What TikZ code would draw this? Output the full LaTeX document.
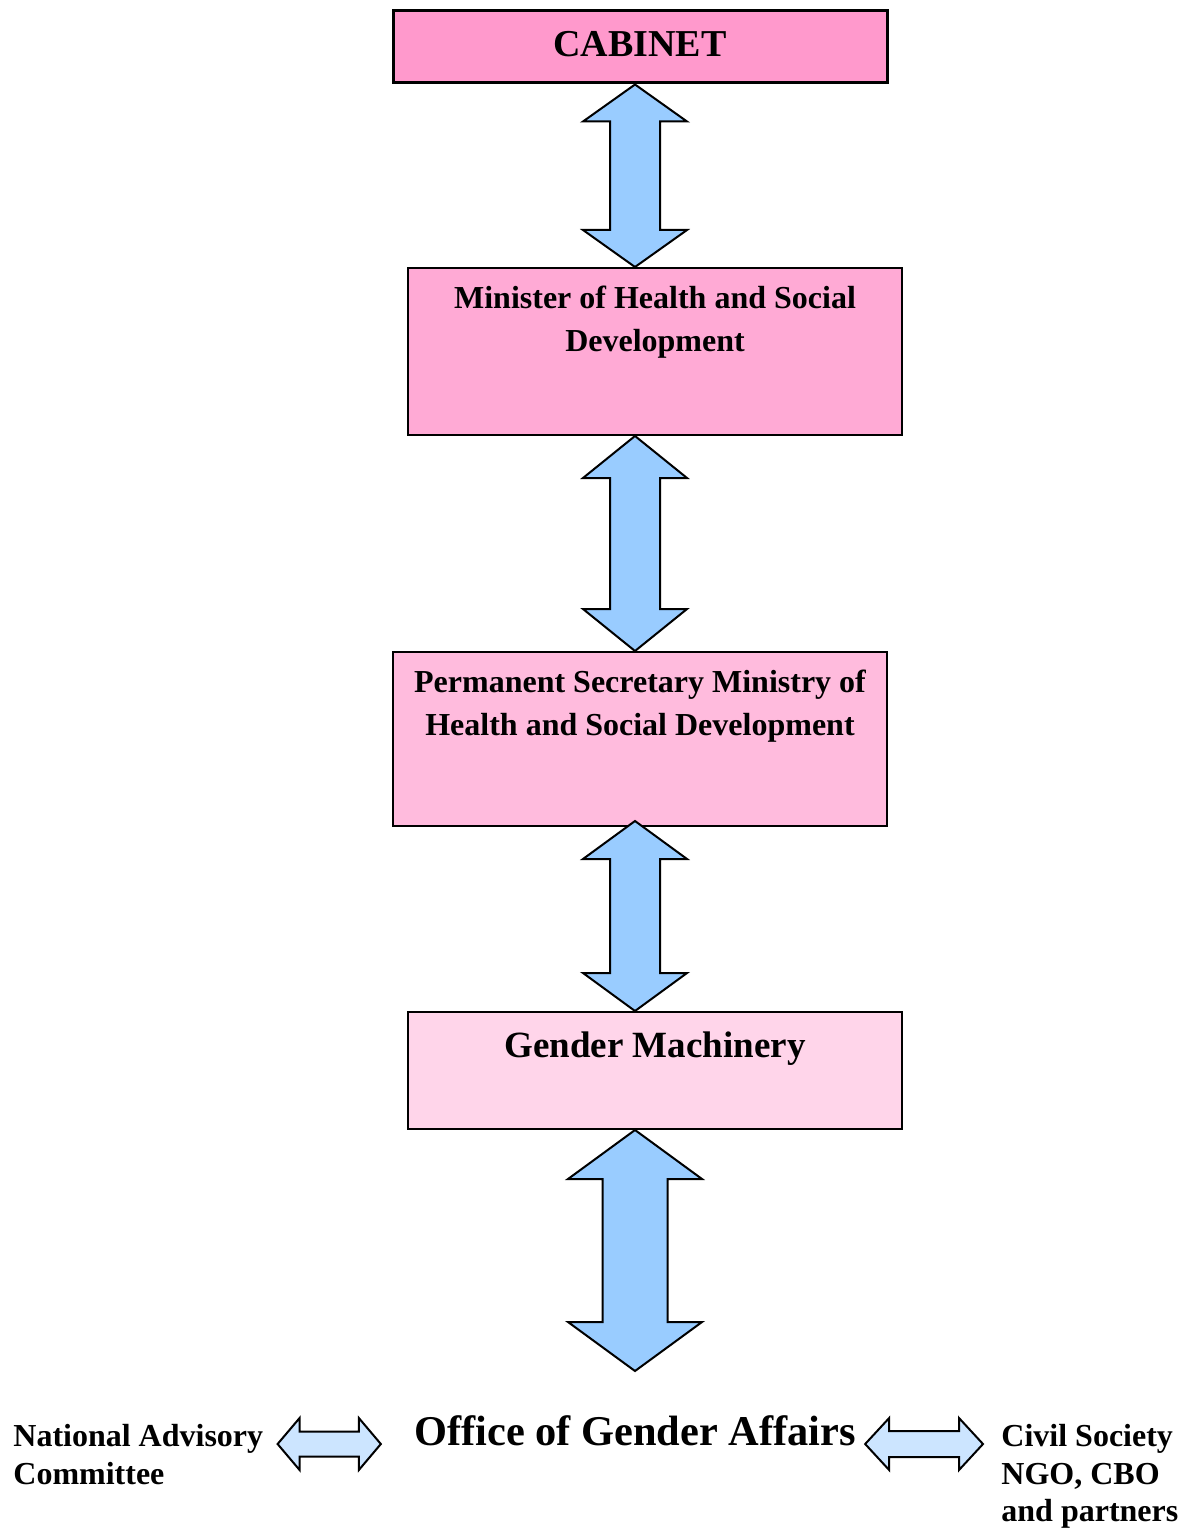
\documentclass[tikz,border=0pt]{standalone}
\usepackage{fontspec}
\setmainfont{Liberation Serif}
\usetikzlibrary{positioning,calc}

\definecolor{cabinetpink}{RGB}{255,153,204}
\definecolor{ministerpink}{RGB}{255,170,213}
\definecolor{secretarypink}{RGB}{255,187,221}
\definecolor{machinerypink}{RGB}{255,213,234}
\definecolor{linkblue}{RGB}{153,204,255}
\definecolor{sideblue}{RGB}{204,229,255}

\tikzset{
    box/.style={draw, line width=1pt, minimum width=247pt, inner sep=0pt},
    boxtext/.style={anchor=north, inner sep=0pt, align=center, font=\bfseries\fontsize{16}{21.5}\selectfont},
    sidetext/.style={anchor=north west, inner sep=0pt, align=left, font=\bfseries\fontsize{16}{18.8}\selectfont},
    vlink/.style={draw, line width=1pt, fill=linkblue, line join=miter},
    hlink/.style={draw, line width=1pt, fill=sideblue, line join=miter}
}

% double arrow, vertical: top, bottom, head half width, shaft half width, head length (px)
\newcommand{\vlinkarrow}[5]{%
    \path[vlink] let \p1=(#1), \p2=(#2) in
        (\x1,\y1) -- (\x1+#3*0.5pt,\y1-#5*0.5pt) -- (\x1+#4*0.5pt,\y1-#5*0.5pt)
        -- (\x1+#4*0.5pt,\y2+#5*0.5pt) -- (\x1+#3*0.5pt,\y2+#5*0.5pt) -- (\x1,\y2)
        -- (\x1-#3*0.5pt,\y2+#5*0.5pt) -- (\x1-#4*0.5pt,\y2+#5*0.5pt)
        -- (\x1-#4*0.5pt,\y1-#5*0.5pt) -- (\x1-#3*0.5pt,\y1-#5*0.5pt) -- cycle;}
% double arrow, horizontal: left, right, head half height, shaft half height, head length (px)
\newcommand{\hlinkarrow}[5]{%
    \path[hlink] let \p1=(#1), \p2=(#2) in
        (\x1,\y1) -- (\x1+#5*0.5pt,\y1+#3*0.5pt) -- (\x1+#5*0.5pt,\y1+#4*0.5pt)
        -- (\x2-#5*0.5pt,\y1+#4*0.5pt) -- (\x2-#5*0.5pt,\y1+#3*0.5pt) -- (\x2,\y1)
        -- (\x2-#5*0.5pt,\y1-#3*0.5pt) -- (\x2-#5*0.5pt,\y1-#4*0.5pt)
        -- (\x1+#5*0.5pt,\y1-#4*0.5pt) -- (\x1+#5*0.5pt,\y1-#3*0.5pt) -- cycle;}

\begin{document}
\begin{tikzpicture}[x=0.5pt, y=-0.5pt]
    \useasboundingbox (0,0) rectangle (1183,1529);
    \coordinate (spine) at (635,0);
    \coordinate (sideaxis) at (0,1444);

    % hierarchy boxes
    \node[box, line width=1.5pt, fill=cabinetpink, minimum height=36pt] (cabinet) at (640,47) {};
    \node[anchor=base, inner sep=0pt, font=\bfseries\fontsize{19}{23}\selectfont] (cabinetlabel) at (640,57) {CABINET};

    \node[box, fill=ministerpink, minimum height=83.5pt] (minister) at (655,351.5) {};
    \node[boxtext] (ministerlabel) at (655,286) {Minister of Health and Social\\Development};

    \node[box, fill=secretarypink, minimum height=87pt] (secretary) at (640,739) {};
    \node[boxtext] (secretarylabel) at (640,670) {Permanent Secretary Ministry of\\Health and Social Development};

    \node[box, fill=machinerypink, minimum height=58.5pt] (machinery) at (655,1070.5) {};
    \node[anchor=base, inner sep=0pt, font=\bfseries\fontsize{18.5}{22}\selectfont] (machinerylabel) at (655,1057) {Gender Machinery};

    % bottom row
    \node[anchor=base, inner sep=0pt, font=\bfseries\fontsize{21.2}{26}\selectfont] (office) at (635,1445) {Office of Gender Affairs};
    \node[sidetext] (advisory) at (13,1424) {National Advisory\\Committee};
    \node[sidetext] (civil) at (1001,1424) {Civil Society\\NGO, CBO\\and partners};
    \coordinate (secretarylow) at ([yshift=3pt]secretary.south);
    \coordinate (officetop) at (635,1371);
    \coordinate (advisoryend) at ([xshift=7pt]advisory.east);
    \coordinate (officewest) at ([xshift=-16.5pt]office.west);
    \coordinate (officeeast) at ([xshift=4.5pt]office.east);
    \coordinate (civilend) at ([xshift=-9pt]civil.west);

    % links
    \vlinkarrow{cabinet.south -| spine}{minister.north -| spine}{52}{25}{37}
    \vlinkarrow{minister.south -| spine}{secretary.north -| spine}{52}{25}{42}
    \vlinkarrow{secretarylow -| spine}{machinery.north -| spine}{52}{25}{38}
    \vlinkarrow{machinery.south -| spine}{officetop}{67}{32.5}{49}

    \hlinkarrow{advisoryend |- sideaxis}{officewest |- sideaxis}{26}{12.5}{22}
    \hlinkarrow{officeeast |- sideaxis}{civilend |- sideaxis}{26}{13}{24}
\end{tikzpicture}
\end{document}
